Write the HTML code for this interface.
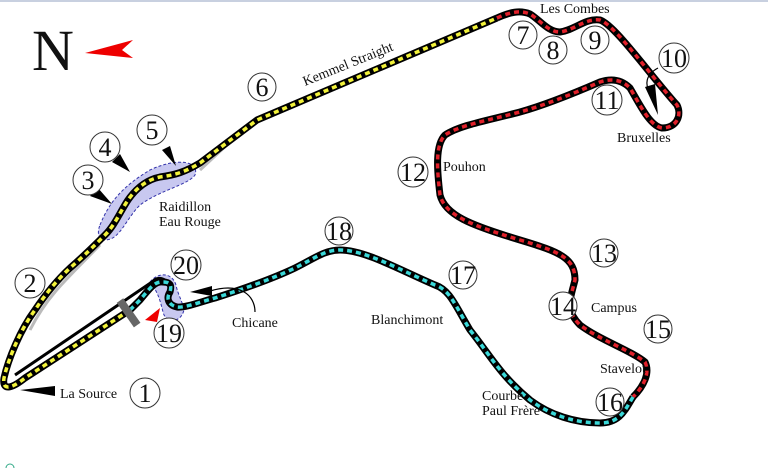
<!DOCTYPE html>
<html><head><meta charset="utf-8"><style>
html,body{margin:0;padding:0;background:#fff}
svg{display:block}
text{font-family:"Liberation Serif",serif;fill:#111}
</style></head><body>
<svg width="768" height="468" viewBox="0 0 768 468" xmlns="http://www.w3.org/2000/svg">
<rect x="0" y="0" width="768" height="468" fill="#fff"/>
<line x1="0" y1="1" x2="768" y2="1" stroke="#c8d0e0" stroke-width="2"/>
<text x="32" y="70" font-size="58">N</text>
<polygon points="85,53 133,40 122,50 133,58" fill="#e00"/>

<path d="M100,225 C110,200 125,185 150,170 C175,158 200,160 195,175 C188,185 160,190 140,205 C125,220 120,240 105,240 C98,240 97,232 100,225 Z" fill="#c8c8f0" stroke="#33a" stroke-width="1" stroke-dasharray="3,2"/>
<path d="M150,282 C158,272 172,272 176,285 C178,295 182,300 184,310 C180,325 165,322 163,312 C160,300 158,292 150,282 Z" fill="#c8c8f0" stroke="#33a" stroke-width="1" stroke-dasharray="3,2"/>

<path d="M30,330 C45,300 60,285 100,245" stroke="#bbb" stroke-width="3" fill="none"/>
<path d="M200,170 L245,128" stroke="#bbb" stroke-width="3" fill="none"/>

<path d="M170,285 C165,278 158,276 152,282 L15,375" stroke="#000" stroke-width="3" fill="none"/>

<g fill="none" stroke-linecap="butt" stroke-linejoin="round">
<path id="s1" d="M130,310 L25,378 C10,390 2,390 4,378 C8,360 20,330 35,310 C45,295 55,282 70,268 C85,255 95,245 105,235 C115,225 120,212 128,200 C135,190 145,180 160,177 C175,175 185,172 200,163 L257,120 L497,18"/>
<use href="#s1" stroke="#000" stroke-width="7"/>
<use href="#s1" stroke="#f2f23a" stroke-width="3.5" stroke-dasharray="5,4"/>
<path id="s2" d="M497,18 C510,12 520,10 530,14 C540,20 548,32 560,32 C575,30 585,18 600,20 C615,25 650,75 677,105 C682,115 677,128 662,128 C650,126 640,105 630,88 C622,80 612,78 600,82 C570,95 545,105 520,112 C490,120 460,125 445,135 C435,145 437,170 440,195 C445,215 470,225 520,240 C560,252 575,258 575,280 C570,300 565,310 580,325 C600,340 630,350 645,362 C650,372 645,385 633,397"/>
<use href="#s2" stroke="#000" stroke-width="7"/>
<use href="#s2" stroke="#e0202a" stroke-width="3.5" stroke-dasharray="5,4"/>
<path id="s3" d="M633,397 C625,410 620,423 600,423 C575,423 550,415 530,400 C500,375 490,355 470,330 C455,305 450,290 435,285 C400,270 365,250 340,250 C325,250 315,258 295,268 C270,280 240,290 215,298 C200,302 185,308 177,307 C168,305 166,298 170,292 C172,285 170,282 163,282 C155,281 150,288 140,300 L130,310"/>
<use href="#s3" stroke="#000" stroke-width="7"/>
<use href="#s3" stroke="#3ad8d8" stroke-width="3.5" stroke-dasharray="5,4"/>
</g>

<rect x="114" y="308" width="30" height="8" fill="#666" transform="rotate(55 128 312)"/>
<polygon points="145,320 160,308 157,322" fill="#e00"/>

<polygon points="20,390 55,386 55,396" fill="#000"/>
<polygon points="112,204 90,196 98,188" fill="#000"/>
<polygon points="130,172 112,162 120,154" fill="#000"/>
<polygon points="176,166 162,150 170,146" fill="#000"/>
<polygon points="190,292 212,286 212,296" fill="#000"/>
<path d="M210,291 C240,282 255,295 255,312" stroke="#000" stroke-width="1.2" fill="none"/>
<path d="M658,68 C645,75 645,85 650,92" stroke="#000" stroke-width="1.2" fill="none"/>
<polygon points="658,115 645,87 655,84" fill="#000"/>

<g font-size="26" text-anchor="middle" stroke="none">
<g fill="#fff" stroke="#333" stroke-width="1">
<circle cx="145" cy="393" r="15"/><circle cx="30" cy="283" r="15"/><circle cx="88" cy="180" r="15"/>
<circle cx="105" cy="147" r="15"/><circle cx="152" cy="130" r="15"/><circle cx="262" cy="87" r="14"/>
<circle cx="523" cy="35" r="14"/><circle cx="553" cy="50" r="14"/><circle cx="595" cy="40" r="14"/>
<circle cx="674" cy="58" r="15"/><circle cx="607" cy="100" r="15"/><circle cx="413" cy="172" r="15"/>
<circle cx="604" cy="253" r="14"/><circle cx="563" cy="306" r="14"/><circle cx="658" cy="329" r="14"/>
<circle cx="610" cy="402" r="14"/><circle cx="463" cy="275" r="14"/><circle cx="339" cy="231" r="14"/>
<circle cx="186" cy="265" r="15"/><circle cx="169" cy="333" r="15"/>
</g>
<text x="145" y="402">1</text><text x="30" y="292">2</text><text x="88" y="189">3</text>
<text x="105" y="156">4</text><text x="152" y="139">5</text><text x="262" y="96">6</text>
<text x="523" y="44">7</text><text x="553" y="59">8</text><text x="595" y="49">9</text>
<text x="674" y="67">10</text><text x="607" y="109">11</text><text x="413" y="181">12</text>
<text x="604" y="262">13</text><text x="563" y="315">14</text><text x="658" y="338">15</text>
<text x="610" y="411">16</text><text x="463" y="284">17</text><text x="339" y="240">18</text>
<text x="186" y="274">20</text><text x="169" y="342">19</text>
</g>

<g font-size="14">
<text x="540" y="13">Les Combes</text>
<text x="617" y="142">Bruxelles</text>
<text x="443" y="171">Pouhon</text>
<text x="159" y="211">Raidillon</text>
<text x="159" y="226">Eau Rouge</text>
<text x="232" y="327">Chicane</text>
<text x="371" y="324">Blanchimont</text>
<text x="591" y="312">Campus</text>
<text x="600" y="373">Stavelot</text>
<text x="482" y="400">Courbe</text>
<text x="482" y="415">Paul Frère</text>
<text x="60" y="398">La Source</text>
<text x="305" y="86" transform="rotate(-22 305 86)">Kemmel Straight</text>
</g>
<circle cx="10" cy="468" r="4" fill="none" stroke="#3a8" stroke-width="1"/>
</svg>
</body></html>
